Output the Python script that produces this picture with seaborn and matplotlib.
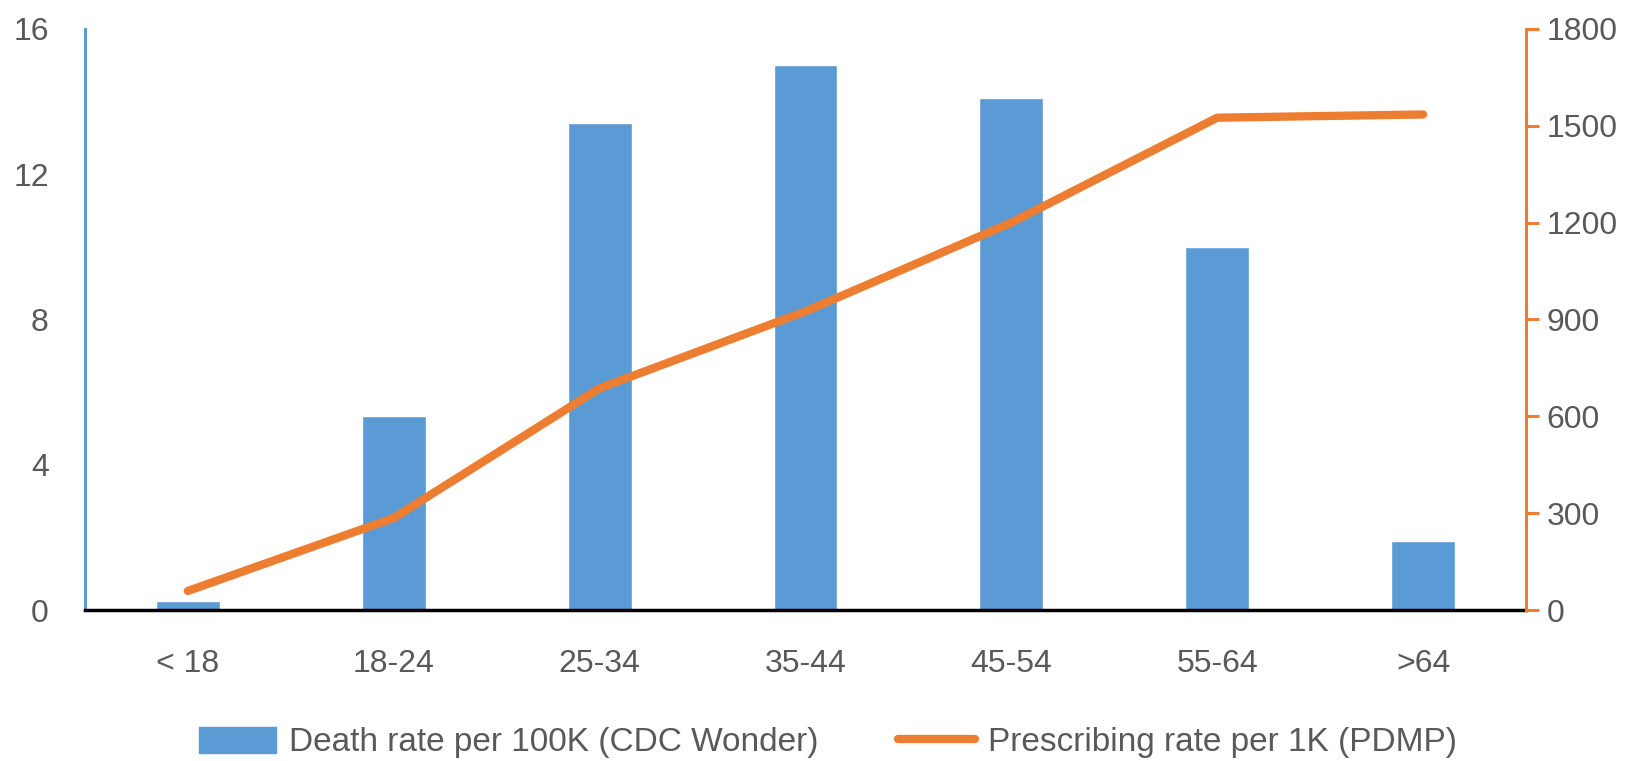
import numpy as np
import pandas as pd
import seaborn as sns
import matplotlib.pyplot as plt
from matplotlib.patches import Patch
from matplotlib.lines import Line2D

age_groups = ["< 18", "18-24", "25-34", "35-44", "45-54", "55-64", ">64"]
death_rate = [0.25, 5.35, 13.4, 15.0, 14.1, 10.0, 1.9]
prescribing_rate = [59, 285, 687, 925, 1200, 1525, 1535]

blue = "#5B9BD5"
orange = "#ED7D31"
grey = "#595959"

sns.set_theme(style="white")
plt.rcParams['font.family'] = ['Liberation Sans', 'DejaVu Sans']

df = pd.DataFrame({"age": age_groups, "death": death_rate,
                   "rx": prescribing_rate, "pos": np.arange(len(age_groups))})

fig = plt.figure(figsize=(16.4, 7.61), dpi=100)
ax = fig.add_axes([0.0518, 0.1984, 0.8787, 0.7636])

sns.barplot(data=df, x="age", y="death", color=blue, width=0.31,
            saturation=1, ax=ax)
ax.set_xlim(-0.5, 6.5)
ax.set_ylim(0, 16)
ax.set_yticks([0, 4, 8, 12, 16])
ax.set_xlabel("")
ax.set_ylabel("")

ax2 = ax.twinx()
sns.lineplot(data=df, x="pos", y="rx", color=orange, linewidth=6,
             solid_capstyle="round", ax=ax2)
ax2.set_ylim(0, 1800)
ax2.set_yticks(range(0, 1801, 300))
ax2.set_ylabel("")
ax2.set_xlabel("")

for a in (ax, ax2):
    for s in a.spines.values():
        s.set_visible(False)

ax.spines["left"].set_visible(True)
ax.spines["left"].set_color(blue)
ax.spines["left"].set_linewidth(2.2)
ax.spines["bottom"].set_visible(True)
ax.spines["bottom"].set_color("black")
ax.spines["bottom"].set_linewidth(2.5)
ax2.spines["right"].set_visible(True)
ax2.spines["right"].set_color(orange)
ax2.spines["right"].set_linewidth(2.2)

ax.tick_params(axis="y", length=0, pad=26, labelsize=23, labelcolor=grey)
ax.tick_params(axis="x", length=0, pad=28, labelsize=23, labelcolor=grey)
ax2.tick_params(axis="y", direction="out", length=9, width=2.2, color=orange,
                pad=6, labelsize=23, labelcolor=grey)

handles = [Patch(facecolor=blue, edgecolor=blue),
           Line2D([0], [0], color=orange, linewidth=6, solid_capstyle="round")]
labels = ["Death rate per 100K (CDC Wonder)", "Prescribing rate per 1K (PDMP)"]
leg = fig.legend(handles, labels, loc="center", bbox_to_anchor=(0.505, 0.024),
                 ncol=2, frameon=False, fontsize=24, columnspacing=2.4,
                 handlelength=2.3, handletextpad=0.4, handleheight=0.8)
for t in leg.get_texts():
    t.set_color(grey)

fig.savefig("out.png", dpi=100)
